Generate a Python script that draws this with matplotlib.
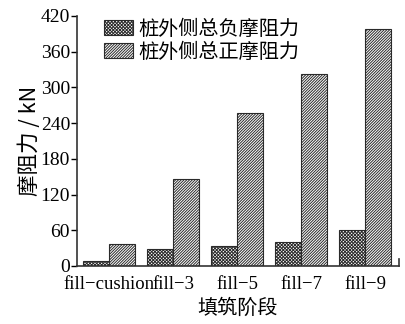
import numpy as np
import matplotlib
matplotlib.use("Agg")
import matplotlib.pyplot as plt

plt.rcParams["hatch.linewidth"] = 0.7

stages = ["fill\u2212cushion", "fill\u22123", "fill\u22125", "fill\u22127", "fill\u22129"]
neg_friction = [8, 28, 34, 40, 60]
pos_friction = [37, 147, 257, 322, 398]
yticks = [0, 60, 120, 180, 240, 300, 360, 420]

serif = ["Liberation Serif", "DejaVu Serif"]
cjk = ["Noto Sans CJK SC", "Liberation Serif"]

fig = plt.figure(figsize=(4.05, 3.24), dpi=100)
ax = fig.add_axes([77 / 405, 1 - 266 / 324, 322 / 405, 250 / 324])

x = np.arange(len(stages))
w = 0.405
ax.bar(x - w / 2, neg_friction, w, facecolor="white", edgecolor="#2a2a2a",
       hatch="xxxxxxxxxx", linewidth=0.8, label="桩外侧总负摩阻力")
ax.bar(x + w / 2, pos_friction, w, facecolor="white", edgecolor="#2a2a2a",
       hatch="////////////", linewidth=0.8, label="桩外侧总正摩阻力")

ax.set_xlim(-0.5, 4.53)
ax.set_ylim(0, 420)
ax.set_yticks(yticks)
ax.set_xticks(x)
ax.set_xticklabels(stages, family=serif, fontsize=13.5)
for t in ax.get_yticklabels():
    t.set_family(serif)
    t.set_fontsize(14)
ax.tick_params(axis="x", length=0, pad=7)
ax.tick_params(axis="y", direction="out", length=4, width=1, pad=1)

ax.spines["top"].set_visible(False)
ax.spines["right"].set_bounds(0, 12)
for s in ["left", "bottom", "right"]:
    ax.spines[s].set_linewidth(1.2)
    ax.spines[s].set_color("#333333")

ax.set_ylabel("摩阻力 / kN", family=cjk, fontsize=15.5, labelpad=0)
ax.set_xlabel("填筑阶段", family=cjk, fontsize=14.5, labelpad=3.5)

ax.legend(loc="upper left", bbox_to_anchor=(27 / 322, 0.99), frameon=False,
          prop={"family": cjk, "size": 14.5}, handlelength=1.45, handleheight=0.75,
          handletextpad=0.25, labelspacing=0.1, borderaxespad=0, borderpad=0)

fig.savefig("out.png", dpi=100)
